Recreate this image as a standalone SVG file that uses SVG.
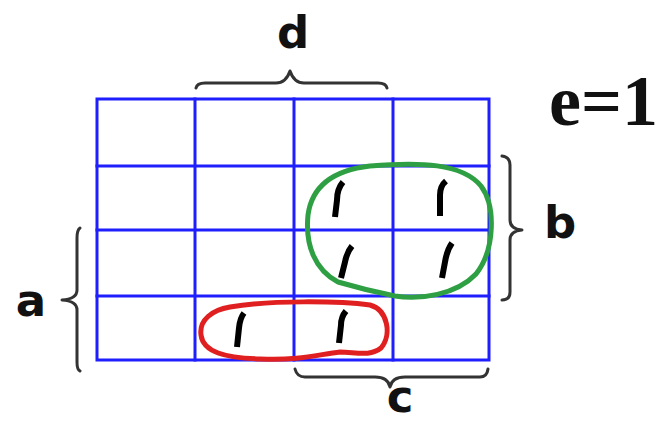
<svg xmlns="http://www.w3.org/2000/svg" width="659" height="424" viewBox="0 0 659 424">
<style>
.grid{stroke:#1e1eff;stroke-width:3;fill:none;stroke-linecap:square}
.brace{stroke:#333;stroke-width:3;fill:none;stroke-linecap:round;stroke-linejoin:round}
.one{stroke:#000;stroke-width:6;fill:none;stroke-linecap:butt}
.lbl{font-family:"DejaVu Sans",sans-serif;font-weight:bold;font-size:45px;fill:#111;text-anchor:middle}
.eq{font-family:"Liberation Serif",serif;font-weight:bold;font-size:72px;fill:#111}
</style>
<rect width="659" height="424" fill="#fff"/>
<g id="grid" class="grid">
<rect x="97" y="99" width="392" height="261"/>
<line x1="195" y1="99" x2="195" y2="360"/>
<line x1="294" y1="99" x2="294" y2="360"/>
<line x1="393" y1="99" x2="393" y2="360"/>
<line x1="97" y1="166" x2="489" y2="166"/>
<line x1="97" y1="230" x2="489" y2="230"/>
<line x1="97" y1="296" x2="489" y2="296"/>
</g>
<g id="connectors">
<path id="brace-d" class="brace" d="M196 88 Q197 83 205 83 L276 83 Q286 83 290 71 Q294 83 304 83 L378 83 Q386 83 387 88"/>
<path id="brace-b" class="brace" d="M502 156 Q510 157 510 165 L510 220 Q510 229 522 230 Q510 231 510 240 L510 292 Q510 300 502 300"/>
<path id="brace-a" class="brace" d="M80 228 Q77 230 77 238 L77 290 Q77 299 62 300 Q77 301 77 310 L77 362 Q77 370 80 371"/>
<path id="brace-c" class="brace" d="M295 369 Q297 377 305 377 L375 377 Q388 377 390 387 Q392 377 405 377 L480 377 Q487 377 488 369"/>
</g>
<g id="loop-green">
<path d="M370 166 C420 162 462 163 481 186 C496 206 495 250 476 274 C456 295 420 300 395 296 C375 292 355 287 338 282 C315 270 305 245 308 215 C312 185 335 170 370 166 Z" fill="none" stroke="#2ea043" stroke-width="5"/>
</g>
<g id="loop-red">
<path d="M230 307 C270 300 340 301 370 305 C388 310 392 335 381 348 C370 357 355 352 340 352 C320 354 300 361 260 359 C225 358 203 352 201 335 C199 320 212 310 230 307 Z" fill="none" stroke="#e02020" stroke-width="5"/>
</g>
<g id="ones" class="one">
<path d="M343 182 Q337 189 337 200 L335 217"/>
<path d="M446 181 Q440 186 440 195 L440 216"/>
<path d="M352 246 Q347 252 345 262 L341 278"/>
<path d="M452 243 Q447 250 445 262 L442 278"/>
<path d="M244 313 Q240 318 239 328 L237 347"/>
<path d="M346 311 Q341 317 341 325 L339 343"/>
</g>
<g id="labels">
<text class="lbl" x="293" y="48">d</text>
<text class="lbl" x="560" y="238">b</text>
<text class="lbl" x="31" y="316">a</text>
<text class="lbl" x="400" y="412">c</text>
<text class="eq" x="549" y="125">e=1</text>
</g>
</svg>
